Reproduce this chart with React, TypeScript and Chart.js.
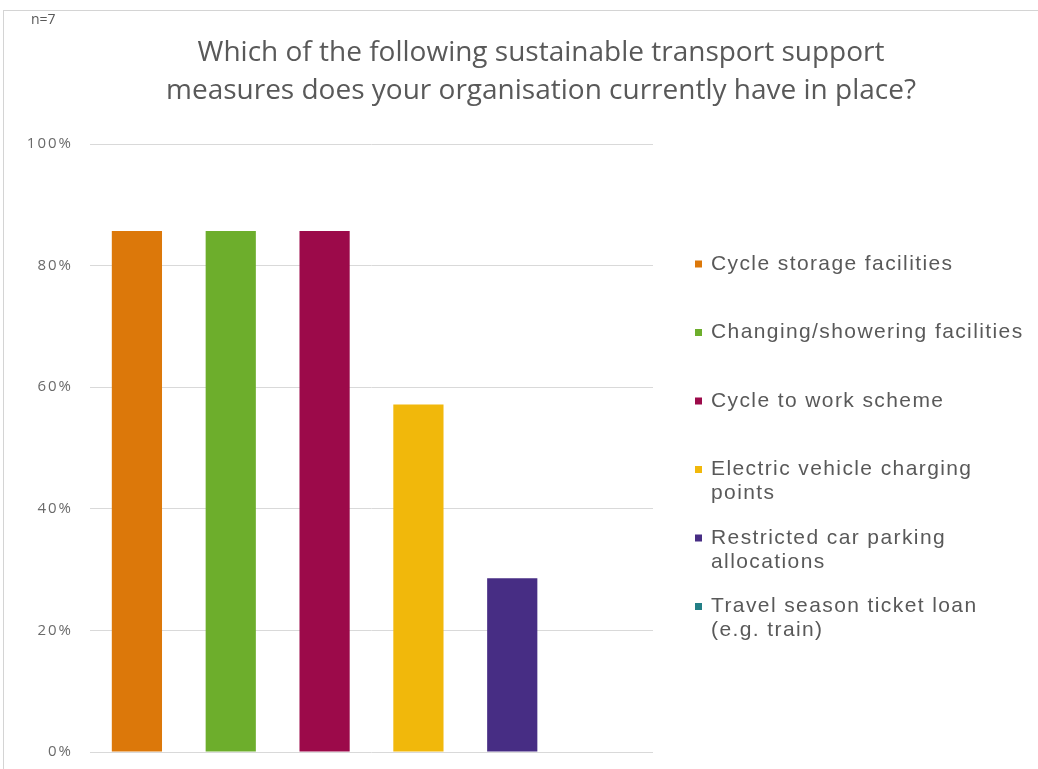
import React, { useEffect, useRef } from "react";
import { Chart, registerables } from "chart.js";

Chart.register(...registerables);

const titleLines = [
  "Which of the following sustainable transport support",
  "measures does your organisation currently have in place?",
];
const sampleNote = "n=7";
const categories = [
  "Cycle storage facilities",
  "Changing/showering facilities",
  "Cycle to work scheme",
  "Electric vehicle charging points",
  "Restricted car parking allocations",
  "Travel season ticket loan (e.g. train)",
];
const legendLines = [
  ["Cycle storage facilities"],
  ["Changing/showering facilities"],
  ["Cycle to work scheme"],
  ["Electric vehicle charging", "points"],
  ["Restricted car parking", "allocations"],
  ["Travel season ticket loan", "(e.g. train)"],
];
const values = [85.71, 85.71, 85.71, 57.14, 28.57, 0];
const colors = ["#DC780A", "#6DAE2C", "#9C0A4A", "#F1B80B", "#472D84", "#237F86"];
const yTicks = [0, 20, 40, 60, 80, 100];

const TEXT = "#595959";

const overlayPlugin = {
  id: "overlay",
  beforeDraw(chart: any) {
    (chart.ctx as any).letterSpacing = "2px";
  },
  afterDraw(chart: any) {
    const ctx = chart.ctx as CanvasRenderingContext2D;
    (ctx as any).letterSpacing = "0px";
    ctx.save();
    // title
    ctx.fillStyle = TEXT;
    ctx.textAlign = "center";
    ctx.textBaseline = "middle";
    ctx.font = "28px 'Open Sans'";
    titleLines.forEach((t, i) => ctx.fillText(t, 541, 53 + i * 38));
    // n=7
    ctx.textAlign = "left";
    ctx.font = "14px 'Open Sans'";
    ctx.fillText(sampleNote, 31, 20);
    // legend
    ctx.font = "21px 'Liberation Sans'";
    (ctx as any).letterSpacing = "1.4px";
    legendLines.forEach((lines, i) => {
      const y0 = 264 + i * 68.5;
      ctx.fillStyle = colors[i];
      ctx.fillRect(695, y0 - 3.5, 7, 7);
      ctx.fillStyle = TEXT;
      lines.forEach((ln, j) => ctx.fillText(ln, 711, y0 + j * 24));
    });
    ctx.restore();
    (ctx as any).letterSpacing = "0px";
  },
};

export default function App() {
  const ref = useRef<HTMLCanvasElement>(null);
  useEffect(() => {
    if (!ref.current) return;
    const chart = new Chart(ref.current, {
      type: "bar",
      data: {
        labels: categories,
        datasets: [
          {
            label: "share",
            data: values,
            backgroundColor: colors,
            borderWidth: 0,
            categoryPercentage: 1,
            barPercentage: 0.535,
          },
        ],
      },
      options: {
        responsive: false,
        animation: false,
        layout: { padding: { top: 144, right: 385, bottom: 17, left: 20 } },
        plugins: {
          legend: { display: false },
          title: { display: false },
          tooltip: { enabled: false },
        },
        scales: {
          x: {
            display: false,
          },
          y: {
            min: 0,
            max: 100,
            afterFit: (axis: any) => {
              axis.width = 70;
              axis.paddingTop = 0;
              axis.paddingBottom = 0;
            },
            afterBuildTicks: (axis: any) => {
              axis.ticks = yTicks.map((v) => ({ value: v }));
            },
            ticks: {
              color: "#6a6a6a",
              padding: 17,
              font: { family: "'Open Sans'", size: 15 },
              callback: (v: any) => v + "%",
            },
            grid: { color: "#d9d9d9", lineWidth: 1, drawTicks: false },
            border: { display: false },
          },
        },
      },
      plugins: [overlayPlugin],
    });
    return () => chart.destroy();
  }, []);
  return (
    <div style={{ position: "fixed", left: 0, top: 0, width: 1038, height: 769, background: "#fff" }}>
      <div
        style={{
          position: "absolute",
          left: 3,
          top: 10,
          width: 1035,
          height: 759,
          borderLeft: "1px solid #d4d4d4",
          borderTop: "1px solid #d4d4d4",
        }}
      />
      <canvas ref={ref} width={1038} height={769} style={{ position: "absolute", left: 0, top: 0 }} />
    </div>
  );
}
